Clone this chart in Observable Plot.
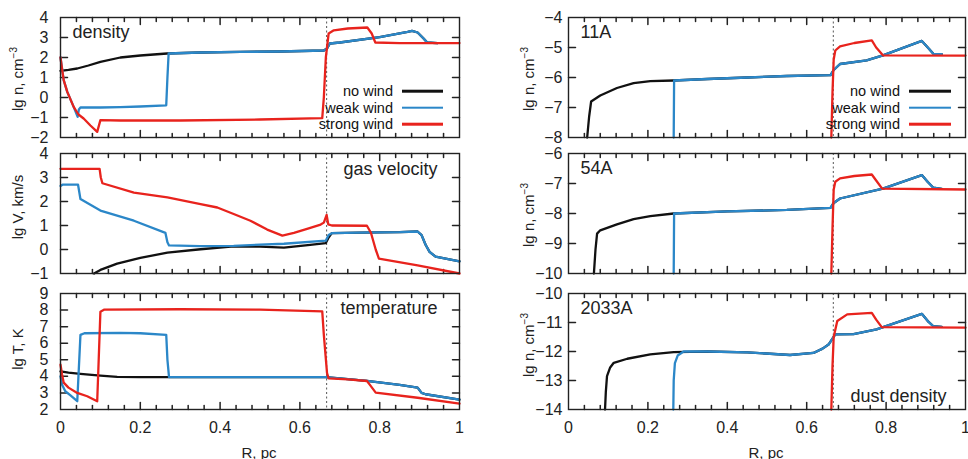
<!DOCTYPE html>
<html><head><meta charset="utf-8">
<script src="https://cdn.jsdelivr.net/npm/d3@7"></script>
<script src="https://cdn.jsdelivr.net/npm/@observablehq/plot@0.6"></script>
<style>
body{margin:0;background:#fff;font-family:"Liberation Sans",Arial,sans-serif;}
#c{position:relative;width:968px;height:459px;overflow:hidden;background:#fff}
#c svg{position:absolute;overflow:visible}
.yl{position:absolute;transform:translate(-50%,-50%) rotate(-90deg);white-space:nowrap;font-size:15px;color:#222;line-height:1}
.yl sup{font-size:10px;vertical-align:6px;line-height:0}
.xl{position:absolute;transform:translate(-50%,-50%);white-space:nowrap;font-size:15px;color:#222}
.lg{position:absolute;width:200px;text-align:right;font-size:14.5px;color:#111;line-height:1;transform:translateY(-50%)}
.ls{position:absolute;height:2.6px;transform:translateY(-50%)}
</style></head>
<body><div id="c"></div>
<script>
// ---------- data ----------
const seriesNames = ["no wind", "weak wind", "strong wind"];
const seriesColors = ["#111111", "#2b87c8", "#e8231d"];
const xMajorTicks = [0, 0.2, 0.4, 0.6, 0.8, 1];
const shockR = [0.667];

// density, lg n (cm^-3)
const densNo = [[0,1.33],[0.02,1.38],[0.042,1.45],[0.07,1.6],[0.1,1.78],[0.15,2.0],[0.2,2.1],[0.267,2.2],[0.35,2.25],[0.45,2.28],[0.55,2.3],[0.66,2.35],[0.668,2.45],[0.675,2.7],[0.7,2.75],[0.8,3.02],[0.87,3.28],[0.881,3.33],[0.895,3.25],[0.91,2.95],[0.919,2.75],[0.945,2.72]];
const densWeak = [[0,2.0],[0.008,0.87],[0.017,0.28],[0.033,-0.47],[0.043,-0.97],[0.046,-0.6],[0.05,-0.5],[0.1,-0.5],[0.15,-0.48],[0.2,-0.45],[0.265,-0.39],[0.268,1.0],[0.271,2.2],[0.35,2.25],[0.45,2.28],[0.55,2.3],[0.66,2.35],[0.668,2.45],[0.675,2.7],[0.7,2.75],[0.8,3.02],[0.87,3.28],[0.881,3.33],[0.895,3.25],[0.91,2.95],[0.919,2.75],[0.945,2.72]];
const densStrong = [[0,2.0],[0.004,1.4],[0.008,0.87],[0.017,0.28],[0.033,-0.47],[0.045,-0.85],[0.058,-1.05],[0.075,-1.4],[0.092,-1.72],[0.1,-1.13],[0.15,-1.15],[0.3,-1.15],[0.5,-1.1],[0.656,-1.03],[0.66,0],[0.665,2.0],[0.672,3.2],[0.685,3.36],[0.72,3.45],[0.769,3.5],[0.78,3.2],[0.789,2.75],[0.85,2.72],[1,2.72]];

// gas velocity, lg V (km/s)
const velNo = [[0.084,-1],[0.1,-0.85],[0.142,-0.59],[0.2,-0.35],[0.268,-0.13],[0.351,0.01],[0.434,0.13],[0.5,0.12],[0.56,0.08],[0.62,0.18],[0.665,0.27],[0.672,0.5],[0.68,0.68],[0.75,0.7],[0.85,0.72],[0.895,0.75],[0.905,0.6],[0.915,0.2],[0.925,-0.1],[0.94,-0.3],[1,-0.49]];
const velWeak = [[0,2.65],[0.005,2.7],[0.044,2.7],[0.05,2.1],[0.1,1.62],[0.184,1.2],[0.263,0.69],[0.268,0.3],[0.272,0.17],[0.35,0.14],[0.434,0.15],[0.5,0.2],[0.56,0.24],[0.665,0.37],[0.672,0.6],[0.68,0.68],[0.75,0.7],[0.85,0.72],[0.895,0.75],[0.905,0.6],[0.915,0.2],[0.925,-0.1],[0.94,-0.3],[1,-0.49]];
const velStrong = [[0,3.36],[0.098,3.36],[0.101,3.0],[0.105,2.76],[0.184,2.37],[0.268,2.17],[0.351,1.89],[0.393,1.75],[0.434,1.48],[0.476,1.2],[0.518,0.83],[0.556,0.58],[0.585,0.69],[0.618,0.86],[0.652,1.04],[0.66,1.12],[0.667,1.44],[0.671,1.05],[0.68,1.0],[0.768,0.99],[0.778,0.7],[0.79,0.0],[0.798,-0.38],[0.895,-0.66],[1,-1.0]];

// temperature, lg T (K)
const tempNo = [[0,4.3],[0.02,4.22],[0.05,4.15],[0.1,4.05],[0.142,3.97],[0.2,3.95],[0.4,3.95],[0.665,3.95],[0.7,3.88],[0.768,3.73],[0.85,3.48],[0.895,3.32],[0.905,3.0],[0.915,2.92],[1,2.6]];
const tempWeak = [[0,4.0],[0.004,3.5],[0.012,3.1],[0.025,2.85],[0.042,2.5],[0.045,4.0],[0.05,6.5],[0.06,6.6],[0.15,6.62],[0.2,6.6],[0.265,6.5],[0.268,5.0],[0.272,3.95],[0.4,3.95],[0.665,3.95],[0.7,3.88],[0.768,3.73],[0.85,3.48],[0.895,3.32],[0.905,3.0],[0.915,2.92],[1,2.6]];
const tempStrong = [[0,4.7],[0.004,4.1],[0.008,3.62],[0.02,3.32],[0.042,3.0],[0.067,2.8],[0.092,2.5],[0.095,4.5],[0.1,7.9],[0.11,8.03],[0.3,8.05],[0.5,8.03],[0.656,7.92],[0.66,6.5],[0.668,4.2],[0.672,3.88],[0.72,3.82],[0.768,3.72],[0.775,3.5],[0.79,3.02],[0.895,2.71],[1,2.35]];

// dust 11A, lg n (cm^-3)
const n11No = [[0.047,-8],[0.052,-7.3],[0.057,-6.8],[0.08,-6.6],[0.122,-6.35],[0.164,-6.19],[0.206,-6.12],[0.265,-6.1],[0.35,-6.05],[0.45,-6.0],[0.55,-5.95],[0.66,-5.92],[0.668,-5.75],[0.684,-5.55],[0.751,-5.43],[0.792,-5.26],[0.89,-4.78],[0.905,-5.0],[0.919,-5.21],[0.94,-5.22]];
const n11Weak = [[0.265,-8],[0.266,-6.1],[0.35,-6.05],[0.45,-6.0],[0.55,-5.95],[0.66,-5.92],[0.668,-5.75],[0.684,-5.55],[0.751,-5.43],[0.792,-5.26],[0.89,-4.78],[0.905,-5.0],[0.919,-5.21],[0.94,-5.22]];
const n11Strong = [[0.662,-8],[0.665,-6.5],[0.668,-5.4],[0.672,-5.1],[0.684,-4.96],[0.72,-4.85],[0.764,-4.76],[0.775,-5.0],[0.792,-5.26],[1,-5.27]];

// dust 54A
const n54No = [[0.064,-10],[0.068,-9.2],[0.072,-8.67],[0.08,-8.56],[0.122,-8.36],[0.164,-8.19],[0.206,-8.09],[0.265,-8.0],[0.4,-7.93],[0.55,-7.88],[0.66,-7.81],[0.668,-7.65],[0.684,-7.5],[0.792,-7.17],[0.89,-6.72],[0.905,-6.95],[0.919,-7.14],[0.94,-7.18]];
const n54Weak = [[0.265,-10],[0.266,-8.0],[0.4,-7.93],[0.55,-7.88],[0.66,-7.81],[0.668,-7.65],[0.684,-7.5],[0.792,-7.17],[0.89,-6.72],[0.905,-6.95],[0.919,-7.14],[0.94,-7.18]];
const n54Strong = [[0.662,-10],[0.665,-8.5],[0.668,-7.2],[0.672,-6.94],[0.684,-6.83],[0.72,-6.75],[0.764,-6.7],[0.775,-6.9],[0.79,-7.17],[1,-7.2]];

// dust 2033A
const n2033No = [[0.092,-14],[0.094,-13.4],[0.097,-12.85],[0.105,-12.55],[0.114,-12.39],[0.148,-12.25],[0.206,-12.1],[0.265,-12.02],[0.35,-12.0],[0.45,-12.03],[0.558,-12.12],[0.617,-12.05],[0.64,-11.9],[0.655,-11.76],[0.672,-11.41],[0.718,-11.4],[0.776,-11.24],[0.89,-10.7],[0.905,-10.95],[0.919,-11.13],[0.94,-11.15]];
const n2033Weak = [[0.264,-14],[0.265,-13],[0.268,-12.4],[0.275,-12.14],[0.29,-12.0],[0.35,-12.0],[0.45,-12.03],[0.558,-12.12],[0.617,-12.05],[0.64,-11.9],[0.655,-11.76],[0.672,-11.41],[0.718,-11.4],[0.776,-11.24],[0.89,-10.7],[0.905,-10.95],[0.919,-11.13],[0.94,-11.15]];
const n2033Strong = [[0.662,-14],[0.665,-12.5],[0.668,-11.5],[0.677,-10.95],[0.702,-10.72],[0.764,-10.67],[0.775,-10.9],[0.789,-11.16],[1,-11.18]];

const yTicksDens = [-2,-1,0,1,2,3,4];
const yTicksVel = [-1,0,1,2,3,4];
const yTicksTemp = [2,3,4,5,6,7,8,9];
const yTicks11 = [-8,-7,-6,-5,-4];
const yTicks54 = [-10,-9,-8,-7,-6];
const yTicks2033 = [-14,-13,-12,-11,-10];

// ---------- drawing ----------
const C = document.getElementById("c");
const xMinor = d3.range(0, 26).filter(i => i % 5 !== 0).map(i => i * 0.04);
const ink = "#222";
const fmt = d => (d < 0 ? "\u2212" : "") + String(Math.abs(d));

function panel(o) {
  const fw = o.w - o.ml - o.mr, fh = o.h - o.mt - o.mb;
  const ya = o.yDomain[0], yb = o.yDomain[1], ySpan = yb - ya;
  // inward frame ticks as short two-point segments; length in pixels converted to data units
  const segs = [];
  const addX = (vals, len, tag) => vals.forEach((v, i) => {
    const d = ySpan * len / fh;
    segs.push({x: v, y: ya, k: tag + "b" + i}, {x: v, y: ya + d, k: tag + "b" + i});
    segs.push({x: v, y: yb, k: tag + "t" + i}, {x: v, y: yb - d, k: tag + "t" + i});
  });
  const addY = (vals, len) => vals.forEach((v, i) => {
    const d = len / fw;
    segs.push({x: 0, y: v, k: "yl" + i}, {x: d, y: v, k: "yl" + i});
    segs.push({x: 1, y: v, k: "yr" + i}, {x: 1 - d, y: v, k: "yr" + i});
  });
  addX(xMajorTicks.slice(1, -1), 7, "M");
  addX(xMinor, 4, "m");
  addY(o.yTicks.slice(1, -1), 7);
  const marks = [
    Plot.ruleX(shockR, {stroke: "#555", strokeDasharray: "2,2.5", strokeWidth: 1}),
    Plot.line(segs, {x: "x", y: "y", z: "k", stroke: ink, strokeWidth: 1.5}),
    ...o.series.map((s, i) => Plot.line(s, {x: d => d[0], y: d => d[1], stroke: seriesColors[i], strokeWidth: 2.3})),
    Plot.frame({stroke: ink, strokeWidth: 1.4}),
    Plot.axisY({ticks: o.yTicks, tickSize: 0, tickPadding: o.yPad, tickFormat: fmt, label: null, fontSize: 16}),
    o.showX ? Plot.axisX({ticks: xMajorTicks, tickSize: 0, tickPadding: 12, tickFormat: fmt, label: null, fontSize: 16}) : Plot.axisX({ticks: [], label: null}),
    ...o.labels.map(l => Plot.text([l.t], {text: d => d, frameAnchor: l.a, dx: l.dx, dy: l.dy, fontSize: 18, fill: "#222"}))
  ];
  const svg = Plot.plot({
    width: o.w, height: o.h,
    marginLeft: o.ml, marginRight: o.mr, marginTop: o.mt, marginBottom: o.mb,
    x: {domain: [0, 1]}, y: {domain: o.yDomain},
    style: {fontFamily: "'Liberation Sans', Arial, sans-serif", fontSize: "16px", color: "#222", background: "transparent", overflow: "visible"},
    marks
  });
  svg.style.left = o.left + "px";
  svg.style.top = o.top + "px";
  C.appendChild(svg);
}

const L = {left: 0, w: 470, ml: 60, mr: 11, yPad: 12};
const R = {left: 500, w: 468, ml: 68, mr: 3, yPad: 6};
const T = {top: 0, h: 145, mt: 17, mb: 8};
const M = {top: 145, h: 140, mt: 8, mb: 12};
const B = {top: 285, h: 174, mt: 8, mb: 50};

panel({...L, ...T, series: [densNo, densWeak, densStrong], yDomain: [-2, 4], yTicks: yTicksDens, showX: false, labels: [{t: "density", a: "top-left", dx: 12, dy: 8}]});
panel({...L, ...M, series: [velNo, velWeak, velStrong], yDomain: [-1, 4], yTicks: yTicksVel, showX: false, labels: [{t: "gas velocity", a: "top-right", dx: -22, dy: 9}]});
panel({...L, ...B, series: [tempNo, tempWeak, tempStrong], yDomain: [2, 9], yTicks: yTicksTemp, showX: true, labels: [{t: "temperature", a: "top-right", dx: -22, dy: 8}]});
panel({...R, ...T, series: [n11No, n11Weak, n11Strong], yDomain: [-8, -4], yTicks: yTicks11, showX: false, labels: [{t: "11A", a: "top-left", dx: 12, dy: 8}]});
panel({...R, ...M, series: [n54No, n54Weak, n54Strong], yDomain: [-10, -6], yTicks: yTicks54, showX: false, labels: [{t: "54A", a: "top-left", dx: 12, dy: 8}]});
panel({...R, ...B, series: [n2033No, n2033Weak, n2033Strong], yDomain: [-14, -10], yTicks: yTicks2033, showX: true, labels: [{t: "2033A", a: "top-left", dx: 12, dy: 8}, {t: "dust density", a: "bottom-right", dx: -19, dy: -8}]});

// axis titles
function html(cls, x, y, content) {
  const d = document.createElement("div");
  d.className = cls; d.style.left = x + "px"; d.style.top = y + "px"; d.innerHTML = content;
  C.appendChild(d);
}
html("yl", 17, 79, "lg n, cm<sup>−3</sup>");
html("yl", 17, 207, "lg V, km/s");
html("yl", 17, 349, "lg T, K");
html("yl", 528, 79, "lg n, cm<sup>−3</sup>");
html("yl", 528, 215, "lg n, cm<sup>−3</sup>");
html("yl", 528, 345, "lg n, cm<sup>−3</sup>");
html("xl", 259, 452, "R, pc");
html("xl", 766, 452, "R, pc");

// legends
function legend(textRight, lineX1, lineX2, rows) {
  seriesNames.forEach((n, i) => {
    const t = document.createElement("div");
    t.className = "lg"; t.style.left = (textRight - 200) + "px"; t.style.top = rows[i] + "px"; t.textContent = n;
    C.appendChild(t);
    const s = document.createElement("div");
    s.className = "ls"; s.style.left = lineX1 + "px"; s.style.width = (lineX2 - lineX1) + "px"; s.style.top = rows[i] + "px"; s.style.background = seriesColors[i];
    C.appendChild(s);
  });
}
legend(393, 402, 443, [91, 107.5, 124]);
legend(900, 909, 951, [91, 107.5, 124]);
</script></body></html>
